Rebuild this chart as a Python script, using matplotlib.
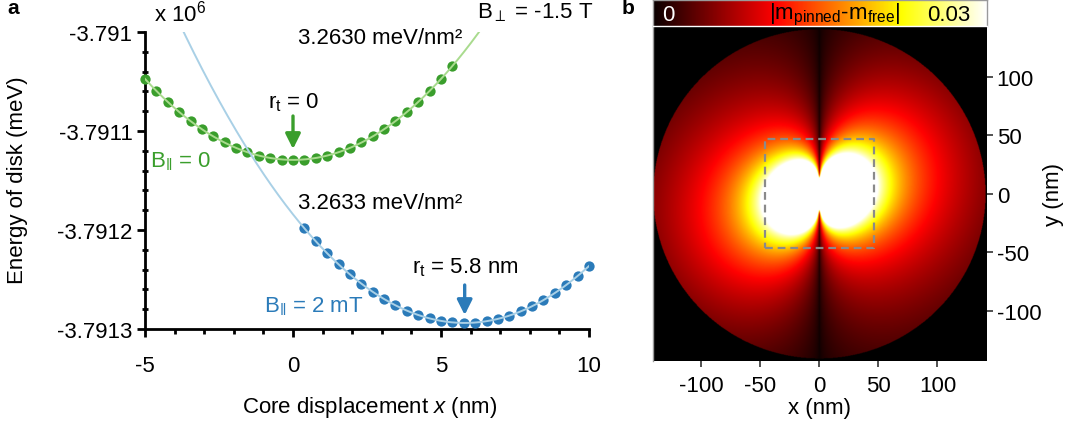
import numpy as np
import matplotlib
matplotlib.use('Agg')
import matplotlib.pyplot as plt
from matplotlib.ticker import FixedLocator, MultipleLocator

plt.rcParams['font.family'] = ['Liberation Sans', 'DejaVu Sans']
plt.rcParams['mathtext.fontset'] = 'custom'
plt.rcParams['mathtext.rm'] = 'Liberation Sans'
plt.rcParams['mathtext.it'] = 'Liberation Sans:italic'
plt.rcParams['mathtext.bf'] = 'Liberation Sans:bold'
plt.rcParams['mathtext.sf'] = 'Liberation Sans'

FS = 16

# ---------------- data: panel a ----------------
x_green = [-5.00, -4.62, -4.23, -3.85, -3.46, -3.08, -2.69, -2.31, -1.92, -1.54,
           -1.15, -0.77, -0.38, 0.00, 0.38, 0.77, 1.15, 1.54, 1.92, 2.31,
           2.69, 3.08, 3.46, 3.85, 4.23, 4.62, 5.00, 5.38]
E_green = [-3.7910474, -3.7910595, -3.7910706, -3.7910807, -3.7910899, -3.7910981,
           -3.7911053, -3.7911116, -3.7911169, -3.7911216, -3.7911250, -3.7911274,
           -3.7911288, -3.7911293, -3.7911288, -3.7911274, -3.7911250, -3.7911216,
           -3.7911169, -3.7911116, -3.7911053, -3.7910981, -3.7910899, -3.7910807,
           -3.7910706, -3.7910595, -3.7910474, -3.7910347]
x_blue = [0.38, 0.77, 1.15, 1.54, 1.92, 2.31, 2.69, 3.08, 3.46, 3.85,
          4.23, 4.62, 5.00, 5.38, 5.77, 6.15, 6.54, 6.92, 7.31, 7.69,
          8.08, 8.46, 8.85, 9.23, 9.62, 10.00]
E_blue = [-3.7911982, -3.7912113, -3.7912235, -3.7912346, -3.7912449, -3.7912541,
          -3.7912624, -3.7912697, -3.7912761, -3.7912814, -3.7912859, -3.7912893,
          -3.7912918, -3.7912933, -3.7912939, -3.7912935, -3.7912921, -3.7912898,
          -3.7912865, -3.7912822, -3.7912770, -3.7912708, -3.7912636, -3.7912555,
          -3.7912464, -3.7912363]
yticks_a = [-3.791, -3.7911, -3.7912, -3.7913]
yticklabels_a = ['-3.791', '-3.7911', '-3.7912', '-3.7913']
xticks_a = [-5, 0, 5, 10]
xticklabels_a = ['-5', '0', '5', '10']
rt_green = 0.0
rt_blue = 5.8

# ---------------- data: panel b ----------------
ticks_b = [-100, -50, 0, 50, 100]
ticklabels_b = ['-100', '-50', '0', '50', '100']
disk_radius = 141.0          # nm
far_strength = 1.15          # far-field term  ~ |cos(phi)|^p / r
near_strength = 800.0        # near-field term ~ |cos(phi)| / r^3
far_angular_power = 0.5
core_strength = 0.09
core_radius = 13.0
asym = 0.15
edge_taper = 0.32
box_half = 46.5
cbar_min, cbar_max = 0.0, 0.03

GREEN = '#3a9e2c'
GREEN_L = '#a9db8e'
BLUE = '#2b7bb9'
BLUE_L = '#a9d0e6'

fig = plt.figure(figsize=(10.73, 4.27), dpi=100)
W, H = 1073, 427

def fbox(l, t, r, b):
    return [l / W, 1 - b / H, (r - l) / W, (b - t) / H]

# ---------------- panel a ----------------
ax = fig.add_axes(fbox(145, 33, 589, 330))
pg = np.polyfit(x_green, E_green, 2)
pb = np.polyfit(x_blue, E_blue, 2)
xg_line = np.linspace(-5, 6.6, 300)
xb_line = np.linspace(-4.2, 10, 300)
ax.plot(x_green, E_green, 'o', color=GREEN, ms=7.4, mew=0, zorder=3, clip_on=False)
ax.plot(x_blue, E_blue, 'o', color=BLUE, ms=7.4, mew=0, zorder=3, clip_on=False)
ax.plot(xg_line, np.polyval(pg, xg_line), color=GREEN_L, lw=1.4, zorder=4)
ax.plot(xb_line, np.polyval(pb, xb_line), color=BLUE_L, lw=1.4, zorder=4)

ax.set_xlim(-5, 10)
ax.set_ylim(-3.7913, -3.791)
ax.yaxis.set_major_locator(FixedLocator(yticks_a))
ax.set_yticklabels(yticklabels_a)
ax.yaxis.set_minor_locator(MultipleLocator(0.00002))
ax.xaxis.set_major_locator(FixedLocator(xticks_a))
ax.set_xticklabels(xticklabels_a)
ax.xaxis.set_minor_locator(MultipleLocator(1))
for s in ['top', 'right']:
    ax.spines[s].set_visible(False)
for s in ['left', 'bottom']:
    ax.spines[s].set_linewidth(2.0)
ax.tick_params(axis='y', which='major', direction='out', length=6, width=2, labelsize=FS, pad=3)
ax.tick_params(axis='y', which='minor', direction='inout', length=5, width=2)
ax.tick_params(axis='x', which='major', direction='out', length=6, width=2, labelsize=FS, pad=13)
ax.tick_params(axis='x', which='minor', direction='out', length=3.5, width=2)

def dx(px):
    return -5 + (px - 145) / 29.6

def dy(py):
    return -3.791 - (py - 33) / 297 * 0.0003

ax.annotate('', xy=(rt_green, dy(150)), xytext=(rt_green, dy(117)),
            arrowprops=dict(arrowstyle='-|>,head_width=0.45,head_length=0.9',
                            color=GREEN, lw=2.4, shrinkA=0, shrinkB=0), annotation_clip=False)
ax.annotate('', xy=(rt_blue, dy(316)), xytext=(rt_blue, dy(286)),
            arrowprops=dict(arrowstyle='-|>,head_width=0.45,head_length=0.9',
                            color=BLUE, lw=2.4, shrinkA=0, shrinkB=0), annotation_clip=False)

ax.text(dx(294), dy(103), r'r$_\mathregular{t}$ = 0', ha='center', va='center', fontsize=FS)
ax.text(dx(465), dy(268), r'r$_\mathregular{t}$ = 5.8 nm', ha='center', va='center', fontsize=FS)
ax.text(dx(150), dy(162), r'B$_{\Vert}$ = 0', ha='left', va='center', fontsize=FS, color=GREEN)
ax.text(dx(264), dy(307), r'B$_{\Vert}$ = 2 mT', ha='left', va='center', fontsize=FS, color=BLUE)
ax.text(dx(380), dy(39), '3.2630 meV/nm²', ha='center', va='center', fontsize=FS)
ax.text(dx(380), dy(204), '3.2633 meV/nm²', ha='center', va='center', fontsize=FS)

fig.text(180 / W, 1 - 14 / H, r'x 10$^\mathregular{6}$', ha='center', va='center', fontsize=FS)
fig.text(535 / W, 1 - 13 / H, r'B$_{\perp}$ = -1.5 T', ha='center', va='center', fontsize=FS)
fig.text(18 / W, 1 - 180 / H, 'Energy of disk (meV)', rotation=90, ha='center', va='center', fontsize=FS)
fig.text(370 / W, 1 - 408 / H, r'Core displacement $\mathit{x}$ (nm)', ha='center', va='center', fontsize=FS)
fig.text(13 / W, 1 - 9 / H, 'a', ha='center', va='center', fontsize=FS - 1, fontweight='bold')
fig.text(628 / W, 1 - 9 / H, 'b', ha='center', va='center', fontsize=FS - 1, fontweight='bold')

# ---------------- panel b ----------------
axb = fig.add_axes(fbox(653, 27, 987, 362))
axb.set_facecolor('black')
xe = (-141.0, 142.0)
ye = (-143.0, 143.5)
gx = np.linspace(xe[0], xe[1], 700)
gy = np.linspace(ye[0], ye[1], 700)
X, Y = np.meshgrid(gx, gy)
R2 = X**2 + Y**2 + 1e-6
Rr = np.sqrt(R2)
cosphi = np.abs(X) / Rr
radial = (far_strength * cosphi ** far_angular_power / Rr + near_strength * cosphi / Rr**3)
lobes = radial * (1 + asym * 2 * X * Y / R2) * (1 - edge_taper * (Rr / disk_radius) ** 3)
core = core_strength * np.exp(-(Rr / core_radius) ** 4)
field = np.sqrt(lobes**2 + core**2)
field = np.ma.masked_where(Rr > disk_radius, field)
cmap = plt.get_cmap('hot').copy()
cmap.set_bad('black')
axb.imshow(field, origin='lower', extent=(xe[0], xe[1], ye[0], ye[1]), cmap=cmap,
           vmin=cbar_min, vmax=cbar_max, aspect='auto', interpolation='bilinear')
axb.plot([-box_half, box_half, box_half, -box_half, -box_half],
         [-box_half, -box_half, box_half, box_half, -box_half],
         color='#8a8a8a', lw=1.6, ls=(0, (3.5, 2.2)))
axb.set_xlim(xe)
axb.set_ylim(ye)
axb.xaxis.set_major_locator(FixedLocator(ticks_b))
axb.set_xticklabels(ticklabels_b)
axb.yaxis.set_major_locator(FixedLocator(ticks_b))
axb.set_yticklabels(ticklabels_b)
axb.yaxis.tick_right()
axb.yaxis.set_label_position('right')
axb.tick_params(axis='both', direction='out', length=4, width=1.2, labelsize=FS, color='#333333')
axb.tick_params(axis='y', pad=3)
axb.tick_params(axis='x', pad=6)
for s in axb.spines.values():
    s.set_visible(False)
axb.spines['left'].set_visible(True)
axb.spines['left'].set_color('#9a9a9a')
axb.spines['left'].set_linewidth(1.0)
axb.set_xlabel('x (nm)', fontsize=FS, labelpad=1)
axb.set_ylabel('y (nm)', fontsize=FS, labelpad=1)

# colorbar strip
axc = fig.add_axes(fbox(653, 1, 987, 27))
grad = np.linspace(cbar_min, cbar_max, 256)[None, :]
axc.imshow(grad, extent=(cbar_min, cbar_max, 0, 1), aspect='auto', cmap='hot',
           vmin=cbar_min, vmax=cbar_max)
axc.set_xticks([])
axc.set_yticks([])
for s in axc.spines.values():
    s.set_color('#9a9a9a')
    s.set_linewidth(1.0)
axc.spines['bottom'].set_color('white')
axc.text(0.045, 0.45, '0', transform=axc.transAxes, ha='center', va='center', fontsize=FS, color='white')
axc.text(0.545, 0.45, r'|m$_\mathregular{pinned}$-m$_\mathregular{free}$|', transform=axc.transAxes,
         ha='center', va='center', fontsize=FS, color='black')
axc.text(0.885, 0.45, '0.03', transform=axc.transAxes, ha='center', va='center', fontsize=FS, color='black')

fig.savefig('out.png', dpi=100)
